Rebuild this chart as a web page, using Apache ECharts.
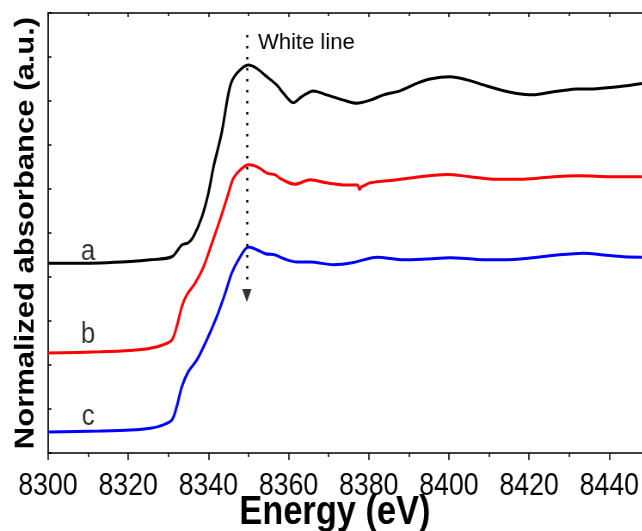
<!DOCTYPE html>
<html>
<head>
<meta charset="utf-8">
<script src="https://cdn.jsdelivr.net/npm/echarts@6/dist/echarts.min.js"></script>
<style>
html,body{margin:0;padding:0;overflow:hidden;background:#fff;}
#wrap{width:642px;height:531px;overflow:hidden;position:relative;}
#c{width:755px;height:531px;transform:scaleX(0.86);transform-origin:0 0;}
</style>
</head>
<body>
<div id="wrap"><div id="c"></div></div>
<script>
// ---- data (energy in eV, normalized absorbance in arbitrary units, offset per curve) ----
const energyA = [8300.0, 8313.0, 8320.5, 8325.5, 8330.9, 8333.4, 8335.0, 8336.3, 8338.4, 8340.0, 8341.3, 8343.3, 8345.4, 8347.1, 8350.0, 8352.1, 8354.6, 8357.1, 8358.7, 8361.2, 8363.3, 8366.2, 8369.5, 8373.7, 8377.0, 8380.4, 8383.7, 8387.8, 8392.0, 8395.3, 8400.3, 8404.5, 8409.5, 8415.3, 8421.1, 8426.1, 8431.9, 8436.9, 8442.7, 8448.2];
const absA = [4.31, 4.32, 4.35, 4.39, 4.46, 4.73, 4.78, 4.92, 5.37, 5.90, 6.51, 7.27, 8.33, 8.63, 8.82, 8.74, 8.55, 8.36, 8.18, 7.96, 8.10, 8.23, 8.14, 8.02, 7.95, 8.02, 8.14, 8.23, 8.40, 8.50, 8.55, 8.48, 8.34, 8.20, 8.14, 8.21, 8.27, 8.28, 8.33, 8.40];

const energyB = [8300.0, 8313.0, 8320.5, 8325.5, 8328.8, 8330.9, 8332.1, 8333.4, 8334.6, 8336.7, 8338.8, 8340.9, 8342.9, 8345.0, 8346.2, 8347.9, 8350.0, 8352.1, 8354.6, 8356.7, 8357.9, 8360.4, 8361.6, 8365.4, 8369.5, 8374.5, 8377.2, 8377.7, 8378.2, 8378.7, 8380.4, 8387.0, 8392.8, 8399.5, 8405.3, 8412.0, 8418.6, 8426.1, 8432.8, 8440.3, 8448.2];
const absB = [2.27, 2.30, 2.33, 2.38, 2.46, 2.57, 2.87, 3.33, 3.59, 3.86, 4.23, 4.77, 5.30, 5.90, 6.24, 6.43, 6.55, 6.51, 6.36, 6.32, 6.24, 6.13, 6.11, 6.21, 6.14, 6.09, 6.09, 5.99, 6.05, 6.07, 6.14, 6.21, 6.28, 6.33, 6.28, 6.22, 6.22, 6.28, 6.30, 6.28, 6.28];

const energyC = [8300.0, 8313.0, 8320.5, 8325.5, 8328.8, 8330.9, 8332.1, 8333.4, 8335.0, 8337.1, 8339.6, 8342.1, 8344.2, 8345.8, 8347.5, 8350.0, 8352.1, 8354.2, 8356.7, 8358.7, 8362.1, 8365.4, 8371.2, 8376.2, 8382.0, 8388.7, 8394.5, 8400.3, 8407.0, 8413.6, 8420.3, 8427.0, 8433.6, 8438.6, 8443.6, 8448.2];
const absC = [0.48, 0.50, 0.52, 0.56, 0.64, 0.75, 1.05, 1.51, 1.85, 2.11, 2.57, 3.10, 3.63, 4.08, 4.39, 4.68, 4.62, 4.53, 4.50, 4.42, 4.34, 4.34, 4.28, 4.33, 4.45, 4.39, 4.41, 4.44, 4.40, 4.39, 4.43, 4.50, 4.54, 4.50, 4.46, 4.45];

const xTicks = [8300, 8320, 8340, 8360, 8380, 8400, 8420, 8440];
const curveNames = ['a', 'b', 'c'];
const curveLabelPos = [[8310, 4.58], [8310, 2.69], [8310, 0.83]];
const whiteLineText = 'White line';
const whiteLineEnergy = 8349.6;
const whiteLineTop = 9.5;
const whiteLineEnd = 3.8;
const whiteLineArrow = 3.58;
const whiteLineTextPos = [8352.4, 9.33];

const SX = 0.86; // horizontal compression of the original figure
const zip = (xs, ys) => xs.map((x, i) => [x, ys[i]]);
const sans = 'Liberation Sans, Arial, sans-serif';
const black = '#000';

const chart = echarts.init(document.getElementById('c'), null, {renderer: 'canvas'});
const curveStyle = (color) => ({type: 'line', smooth: 0.3, showSymbol: false, symbol: 'none',
  lineStyle: {color: color, width: 3}, itemStyle: {color: color}, z: 3});

chart.setOption({
  animation: false,
  backgroundColor: '#fff',
  grid: {left: 48 / SX, top: 13, right: 0, bottom: 78, containLabel: false, outerBoundsMode: 'none'},
  xAxis: [{
    type: 'value', min: 8300, max: 8450, interval: 20, position: 'bottom',
    axisLine: {onZero: false, lineStyle: {color: black, width: 1.5}},
    axisTick: {show: true, inside: false, length: 7, lineStyle: {color: black, width: 1.5}},
    minorTick: {show: true, splitNumber: 2, length: 4, lineStyle: {color: black, width: 1.5}},
    splitLine: {show: false},
    axisLabel: {show: true, showMaxLabel: false, margin: 18, color: black, fontFamily: sans, fontSize: 31,
      formatter: (v) => xTicks.indexOf(v) >= 0 ? String(v) : ''},
    name: 'Energy (eV)', nameLocation: 'middle', nameGap: 40, nameMoveOverlap: false,
    nameTextStyle: {color: black, fontFamily: sans, fontWeight: 'bold', fontSize: 40, padding: [0, 32, 0, 0]}
  }, {
    type: 'value', min: 8300, max: 8450, interval: 20, position: 'top',
    axisLine: {onZero: false, lineStyle: {color: black, width: 1.5}},
    axisTick: {show: true, inside: true, length: 4, lineStyle: {color: black, width: 1.5}},
    minorTick: {show: true, splitNumber: 2, length: 3, lineStyle: {color: black, width: 1.5}},
    splitLine: {show: false},
    axisLabel: {show: false}
  }],
  yAxis: {
    type: 'value', min: 0, max: 10, interval: 1,
    axisLine: {show: true, onZero: false, lineStyle: {color: black, width: 1.7}},
    axisTick: {show: true, inside: true, length: 4, lineStyle: {color: black, width: 1.5}},
    splitLine: {show: false},
    axisLabel: {show: false},
    name: 'Normalized absorbance (a.u.)', nameLocation: 'middle', nameGap: 10, nameMoveOverlap: false,
    nameTextStyle: {color: black, fontFamily: sans, fontWeight: 'bold', fontSize: 31}
  },
  series: [
    Object.assign(curveStyle('#000000'), {name: 'a', data: zip(energyA, absA)}),
    Object.assign(curveStyle('#ff0000'), {name: 'b', data: zip(energyB, absB)}),
    Object.assign(curveStyle('#0000ff'), {name: 'c', data: zip(energyC, absC)}),
    {
      type: 'scatter', name: 'labels', symbolSize: 0, z: 5, silent: true,
      data: curveLabelPos.map((p, i) => [p[0], p[1], curveNames[i]]),
      label: {show: true, position: 'inside', formatter: (p) => p.value[2],
        color: black, fontFamily: sans, fontSize: 30}
    },
    {
      type: 'scatter', name: 'arrow', symbol: 'triangle', symbolRotate: 180, symbolSize: [11, 13], z: 6, silent: true,
      itemStyle: {color: black},
      data: [[whiteLineEnergy, whiteLineArrow]],
      markLine: {
        silent: true, symbol: ['none', 'none'], animation: false,
        lineStyle: {color: black, width: 2.5, type: [2.5, 8.5]},
        label: {show: false},
        data: [[{coord: [whiteLineEnergy, whiteLineTop]}, {coord: [whiteLineEnergy, whiteLineEnd]}]]
      }
    }
  ]
});

// "White line" annotation was not compressed in the original: counter-scale it
const tp = chart.convertToPixel({xAxisIndex: 0, yAxisIndex: 0}, whiteLineTextPos);
chart.setOption({
  graphic: [{
    type: 'text', x: tp[0], y: tp[1], scaleX: 1 / SX, silent: true, z: 10,
    style: {text: whiteLineText, fill: black, fontFamily: sans, fontSize: 22,
      textAlign: 'left', textVerticalAlign: 'middle', verticalAlign: 'middle'}
  }]
});
</script>
</body>
</html>
